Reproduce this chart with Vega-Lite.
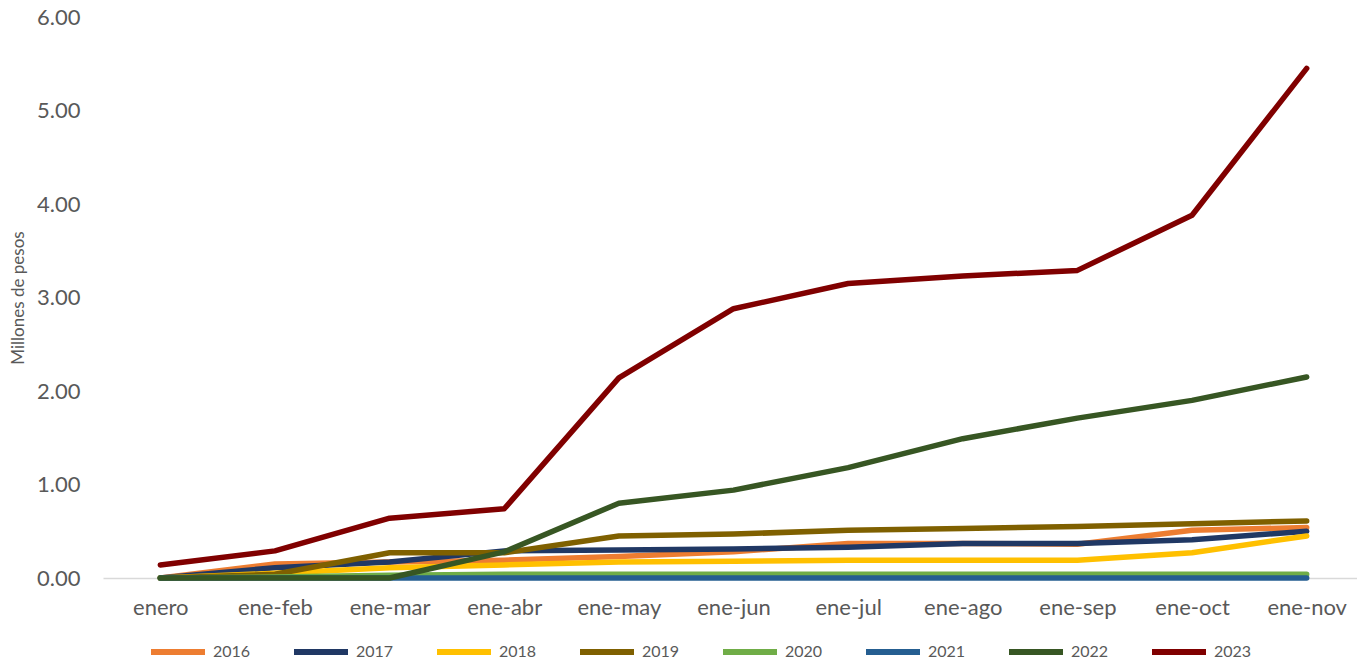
{
  "$schema": "https://vega.github.io/schema/vega-lite/v6.json",
  "width": 1261,
  "height": 561,
  "autosize": {"type": "none"},
  "padding": {"left": 103, "top": 17, "right": 0, "bottom": 84},
  "background": "white",
  "config": {
    "view": {"stroke": null},
    "font": "Lato"
  },
  "datasets": {
    "d": [
      {"mes": "enero", "anio": "2016", "v": 0.0},
      {"mes": "ene-feb", "anio": "2016", "v": 0.15},
      {"mes": "ene-mar", "anio": "2016", "v": 0.17},
      {"mes": "ene-abr", "anio": "2016", "v": 0.19},
      {"mes": "ene-may", "anio": "2016", "v": 0.23},
      {"mes": "ene-jun", "anio": "2016", "v": 0.28},
      {"mes": "ene-jul", "anio": "2016", "v": 0.37},
      {"mes": "ene-ago", "anio": "2016", "v": 0.37},
      {"mes": "ene-sep", "anio": "2016", "v": 0.36},
      {"mes": "ene-oct", "anio": "2016", "v": 0.51},
      {"mes": "ene-nov", "anio": "2016", "v": 0.54},
      {"mes": "enero", "anio": "2017", "v": 0.0},
      {"mes": "ene-feb", "anio": "2017", "v": 0.11},
      {"mes": "ene-mar", "anio": "2017", "v": 0.17},
      {"mes": "ene-abr", "anio": "2017", "v": 0.29},
      {"mes": "ene-may", "anio": "2017", "v": 0.30},
      {"mes": "ene-jun", "anio": "2017", "v": 0.31},
      {"mes": "ene-jul", "anio": "2017", "v": 0.33},
      {"mes": "ene-ago", "anio": "2017", "v": 0.37},
      {"mes": "ene-sep", "anio": "2017", "v": 0.37},
      {"mes": "ene-oct", "anio": "2017", "v": 0.41},
      {"mes": "ene-nov", "anio": "2017", "v": 0.50},
      {"mes": "enero", "anio": "2018", "v": 0.0},
      {"mes": "ene-feb", "anio": "2018", "v": 0.05},
      {"mes": "ene-mar", "anio": "2018", "v": 0.11},
      {"mes": "ene-abr", "anio": "2018", "v": 0.14},
      {"mes": "ene-may", "anio": "2018", "v": 0.17},
      {"mes": "ene-jun", "anio": "2018", "v": 0.18},
      {"mes": "ene-jul", "anio": "2018", "v": 0.19},
      {"mes": "ene-ago", "anio": "2018", "v": 0.19},
      {"mes": "ene-sep", "anio": "2018", "v": 0.19},
      {"mes": "ene-oct", "anio": "2018", "v": 0.27},
      {"mes": "ene-nov", "anio": "2018", "v": 0.45},
      {"mes": "enero", "anio": "2019", "v": 0.0},
      {"mes": "ene-feb", "anio": "2019", "v": 0.04},
      {"mes": "ene-mar", "anio": "2019", "v": 0.27},
      {"mes": "ene-abr", "anio": "2019", "v": 0.27},
      {"mes": "ene-may", "anio": "2019", "v": 0.45},
      {"mes": "ene-jun", "anio": "2019", "v": 0.47},
      {"mes": "ene-jul", "anio": "2019", "v": 0.51},
      {"mes": "ene-ago", "anio": "2019", "v": 0.53},
      {"mes": "ene-sep", "anio": "2019", "v": 0.55},
      {"mes": "ene-oct", "anio": "2019", "v": 0.58},
      {"mes": "ene-nov", "anio": "2019", "v": 0.61},
      {"mes": "enero", "anio": "2020", "v": 0.0},
      {"mes": "ene-feb", "anio": "2020", "v": 0.01},
      {"mes": "ene-mar", "anio": "2020", "v": 0.03},
      {"mes": "ene-abr", "anio": "2020", "v": 0.04},
      {"mes": "ene-may", "anio": "2020", "v": 0.04},
      {"mes": "ene-jun", "anio": "2020", "v": 0.04},
      {"mes": "ene-jul", "anio": "2020", "v": 0.04},
      {"mes": "ene-ago", "anio": "2020", "v": 0.04},
      {"mes": "ene-sep", "anio": "2020", "v": 0.04},
      {"mes": "ene-oct", "anio": "2020", "v": 0.04},
      {"mes": "ene-nov", "anio": "2020", "v": 0.04},
      {"mes": "enero", "anio": "2021", "v": 0.0},
      {"mes": "ene-feb", "anio": "2021", "v": 0.0},
      {"mes": "ene-mar", "anio": "2021", "v": 0.0},
      {"mes": "ene-abr", "anio": "2021", "v": 0.0},
      {"mes": "ene-may", "anio": "2021", "v": 0.0},
      {"mes": "ene-jun", "anio": "2021", "v": 0.0},
      {"mes": "ene-jul", "anio": "2021", "v": 0.0},
      {"mes": "ene-ago", "anio": "2021", "v": 0.0},
      {"mes": "ene-sep", "anio": "2021", "v": 0.0},
      {"mes": "ene-oct", "anio": "2021", "v": 0.0},
      {"mes": "ene-nov", "anio": "2021", "v": 0.0},
      {"mes": "enero", "anio": "2022", "v": 0.0},
      {"mes": "ene-feb", "anio": "2022", "v": 0.0},
      {"mes": "ene-mar", "anio": "2022", "v": 0.0},
      {"mes": "ene-abr", "anio": "2022", "v": 0.28},
      {"mes": "ene-may", "anio": "2022", "v": 0.80},
      {"mes": "ene-jun", "anio": "2022", "v": 0.94},
      {"mes": "ene-jul", "anio": "2022", "v": 1.18},
      {"mes": "ene-ago", "anio": "2022", "v": 1.49},
      {"mes": "ene-sep", "anio": "2022", "v": 1.71},
      {"mes": "ene-oct", "anio": "2022", "v": 1.90},
      {"mes": "ene-nov", "anio": "2022", "v": 2.15},
      {"mes": "enero", "anio": "2023", "v": 0.14},
      {"mes": "ene-feb", "anio": "2023", "v": 0.29},
      {"mes": "ene-mar", "anio": "2023", "v": 0.64},
      {"mes": "ene-abr", "anio": "2023", "v": 0.74},
      {"mes": "ene-may", "anio": "2023", "v": 2.14},
      {"mes": "ene-jun", "anio": "2023", "v": 2.88},
      {"mes": "ene-jul", "anio": "2023", "v": 3.15},
      {"mes": "ene-ago", "anio": "2023", "v": 3.23},
      {"mes": "ene-sep", "anio": "2023", "v": 3.29},
      {"mes": "ene-oct", "anio": "2023", "v": 3.88},
      {"mes": "ene-nov", "anio": "2023", "v": 5.45}
    ]
  },
  "data": {"name": "d"},
  "mark": {"type": "line", "strokeWidth": 5.5, "strokeCap": "round", "strokeJoin": "round"},
  "encoding": {
    "x": {
      "field": "mes",
      "type": "ordinal",
      "sort": ["enero", "ene-feb", "ene-mar", "ene-abr", "ene-may", "ene-jun", "ene-jul", "ene-ago", "ene-sep", "ene-oct", "ene-nov"],
      "scale": {"type": "point", "padding": 0.5},
      "axis": {
        "title": null,
        "labelAngle": 0,
        "labelFontSize": 22,
        "labelColor": "#595959",
        "labelPadding": 19,
        "ticks": false,
        "domainColor": "#D9D9D9",
        "domainWidth": 1.5,
        "grid": false
      }
    },
    "y": {
      "field": "v",
      "type": "quantitative",
      "scale": {"domain": [0, 6], "nice": false, "zero": true},
      "axis": {
        "title": "Millones de pesos",
        "titleFontSize": 17,
        "titleFontWeight": "normal",
        "titleColor": "#595959",
        "titlePadding": 9,
        "values": [0, 1, 2, 3, 4, 5, 6],
        "format": ".2f",
        "labelFontSize": 22,
        "labelColor": "#595959",
        "labelPadding": 23,
        "ticks": false,
        "domain": false,
        "grid": false
      }
    },
    "color": {
      "field": "anio",
      "type": "nominal",
      "scale": {
        "domain": ["2016", "2017", "2018", "2019", "2020", "2021", "2022", "2023"],
        "range": ["#ED7D31", "#203864", "#FFC000", "#7F6000", "#70AD47", "#255E91", "#375623", "#800000"]
      },
      "legend": {
        "title": null,
        "orient": "none",
        "legendX": 45,
        "legendY": 605,
        "direction": "horizontal",
        "columns": 8,
        "symbolType": "stroke",
        "symbolSize": 2916,
        "symbolStrokeWidth": 6,
        "labelFontSize": 16,
        "labelColor": "#595959",
        "labelOffset": 5,
        "columnPadding": 31,
        "padding": 0
      }
    }
  }
}
